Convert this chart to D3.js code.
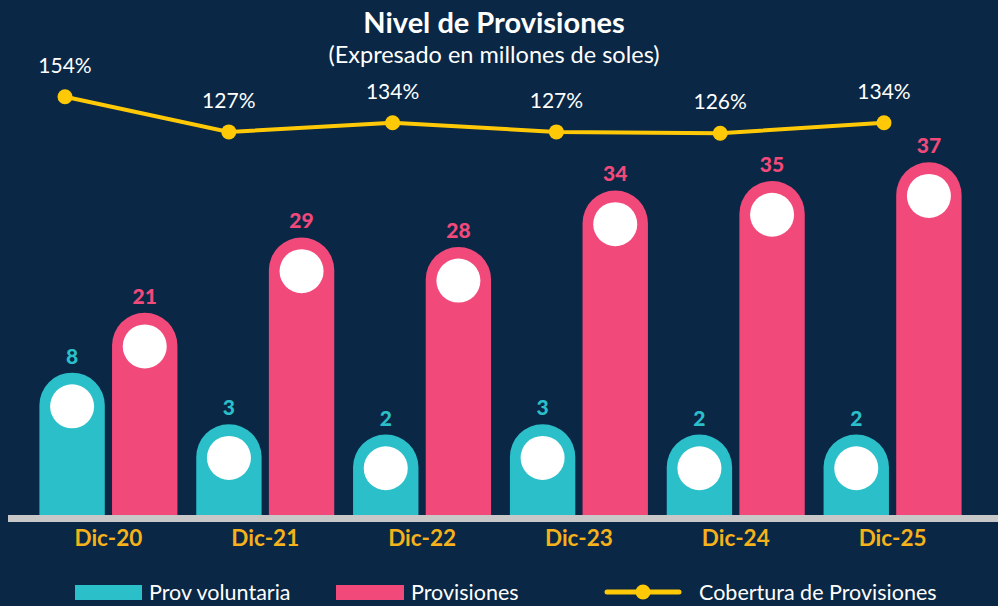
<!DOCTYPE html>
<html>
<head>
<meta charset="utf-8">
<script src="https://cdn.jsdelivr.net/npm/d3@7"></script>
<style>
  body { margin: 0; background: #0a2745; }
  svg { display: block; }
</style>
</head>
<body>
<svg id="chart" width="998" height="606"></svg>
<script>
const categories = ["Dic-20", "Dic-21", "Dic-22", "Dic-23", "Dic-24", "Dic-25"];
const provVoluntaria = [8, 3, 2, 3, 2, 2];
const provisiones = [21, 29, 28, 34, 35, 37];
const cobertura = [154, 127, 134, 127, 126, 134];
const seriesNames = ["Prov voluntaria", "Provisiones", "Cobertura de Provisiones"];

const teal = "#2bbfc9";
const pink = "#f2497b";
const yellow = "#ffc907";
const gold = "#f5b21a";

const svg = d3.select("#chart");
const width = +svg.attr("width");
const height = +svg.attr("height");
const baseY = 515;

svg.append("rect").attr("width", width).attr("height", height).attr("fill", "#0a2745");

// scales
const x0 = d3.scaleBand().domain(categories).range([30, 971]).paddingInner(0.12).paddingOuter(0.06);
const x1 = d3.scaleBand().domain(["vol", "prov"]).range([0, x0.bandwidth()]).paddingInner(0.1);
const yProv = d3.scaleLinear().domain([-0.5, 40]).range([baseY, 134]);
const yVol = d3.scaleLinear().domain([-5.8, 10]).range([baseY, 352]);
const xLine = d3.scalePoint().domain(categories).range([65, 884]);
const yLine = d3.scaleLinear().domain([100, 160]).range([167, 89]);

// title
svg.append("text")
  .attr("x", 494).attr("y", 33)
  .attr("text-anchor", "middle")
  .attr("font-family", "Lato").attr("font-weight", "bold").attr("font-size", 29)
  .attr("fill", "#fff")
  .text("Nivel de Provisiones");
svg.append("text")
  .attr("x", 494).attr("y", 63)
  .attr("text-anchor", "middle")
  .attr("font-family", "Lato").attr("font-size", 23.5)
  .attr("fill", "#fff")
  .text("(Expresado en millones de soles)");

// pill shaped bar
function pill(x, w, top) {
  const r = w / 2;
  return `M${x},${baseY}L${x},${top + r}A${r},${r} 0 0 1 ${x + w},${top + r}L${x + w},${baseY}Z`;
}

const rows = categories.map((c, i) => ({ cat: c, vol: provVoluntaria[i], prov: provisiones[i], cob: cobertura[i] }));
const bw = x1.bandwidth();

const groups = svg.append("g").selectAll("g")
  .data(rows).join("g")
  .attr("transform", d => `translate(${x0(d.cat)},0)`);

const barDefs = [
  { key: "vol", scale: yVol, color: teal },
  { key: "prov", scale: yProv, color: pink }
];

barDefs.forEach(b => {
  groups.append("path")
    .attr("d", d => pill(x1(b.key), bw, b.scale(d[b.key])))
    .attr("fill", b.color);
  groups.append("circle")
    .attr("cx", x1(b.key) + bw / 2)
    .attr("cy", d => b.scale(d[b.key]) + bw / 2 + 1)
    .attr("r", 22)
    .attr("fill", "#fff");
  groups.append("text")
    .attr("x", x1(b.key) + bw / 2)
    .attr("y", d => b.scale(d[b.key]) - 9)
    .attr("text-anchor", "middle")
    .attr("font-family", "Lato").attr("font-weight", 900).attr("font-size", 21)
    .attr("fill", b.color)
    .text(d => d[b.key]);
});

// baseline
svg.append("rect")
  .attr("x", 8).attr("y", baseY)
  .attr("width", width - 8).attr("height", 7)
  .attr("fill", "#c8c8c8");

// category labels
svg.append("g").selectAll("text")
  .data(categories).join("text")
  .attr("x", d => x0(d) + x0.bandwidth() / 2)
  .attr("y", 546)
  .attr("text-anchor", "middle")
  .attr("font-family", "Lato").attr("font-weight", "bold").attr("font-size", 22.5)
  .attr("fill", gold)
  .text(d => d);

// coverage line
const line = d3.line().x(d => xLine(d.cat)).y(d => yLine(d.cob));
svg.append("path")
  .datum(rows)
  .attr("d", line)
  .attr("fill", "none")
  .attr("stroke", yellow)
  .attr("stroke-width", 4);

svg.append("g").selectAll("circle")
  .data(rows).join("circle")
  .attr("cx", d => xLine(d.cat))
  .attr("cy", d => yLine(d.cob))
  .attr("r", 7.5)
  .attr("fill", yellow);

svg.append("g").selectAll("text")
  .data(rows).join("text")
  .attr("x", d => xLine(d.cat))
  .attr("y", d => yLine(d.cob) - 24)
  .attr("text-anchor", "middle")
  .attr("font-family", "Lato").attr("font-size", 21)
  .attr("fill", "#fff")
  .text(d => d.cob + "%");

// legend
const legend = svg.append("g").attr("font-family", "Lato").attr("font-size", 21.5).attr("fill", "#fff");
legend.append("rect").attr("x", 75).attr("y", 585).attr("width", 67).attr("height", 15).attr("fill", teal);
legend.append("text").attr("x", 149).attr("y", 600).text(seriesNames[0]);
legend.append("rect").attr("x", 336).attr("y", 585).attr("width", 68).attr("height", 15).attr("fill", pink);
legend.append("text").attr("x", 411).attr("y", 600).text(seriesNames[1]);
legend.append("line").attr("x1", 607).attr("x2", 679).attr("y1", 592).attr("y2", 592)
  .attr("stroke", yellow).attr("stroke-width", 5).attr("stroke-linecap", "round");
legend.append("circle").attr("cx", 643).attr("cy", 592).attr("r", 7.5).attr("fill", yellow);
legend.append("text").attr("x", 699).attr("y", 600).text(seriesNames[2]);
</script>
</body>
</html>
